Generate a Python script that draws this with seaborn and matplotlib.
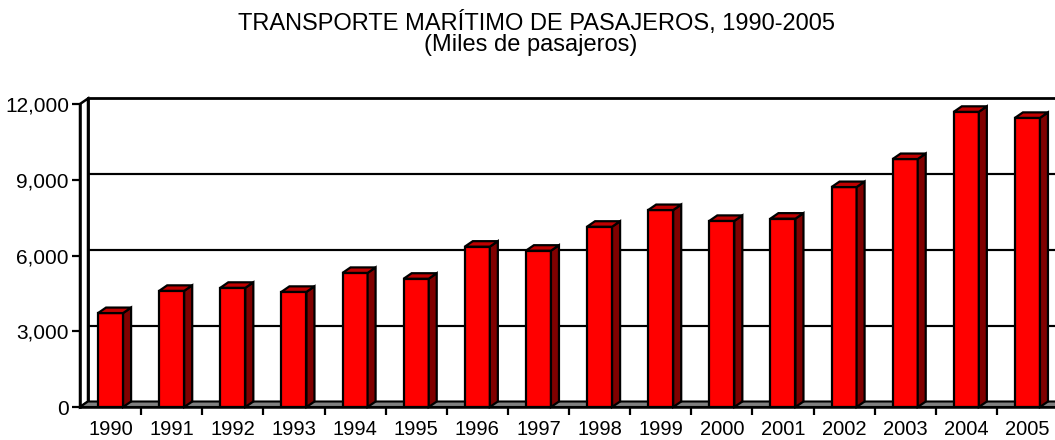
import numpy as np
import pandas as pd
import matplotlib
matplotlib.use("Agg")
import matplotlib.pyplot as plt
import seaborn as sns
from matplotlib.patches import Polygon
from matplotlib.ticker import FuncFormatter, FixedLocator

# data (miles de pasajeros)
years = ["1990", "1991", "1992", "1993", "1994", "1995", "1996", "1997",
         "1998", "1999", "2000", "2001", "2002", "2003", "2004", "2005"]
passengers = [3720, 4600, 4720, 4560, 5310, 5080, 6350, 6190,
              7140, 7800, 7370, 7460, 8710, 9820, 11690, 11450]
y_ticks = [0, 3000, 6000, 9000, 12000]

df = pd.DataFrame({"year": years, "value": passengers})

sns.set_theme(style="white")
plt.rcParams["font.family"] = ["Liberation Sans", "DejaVu Sans"]
plt.rcParams["text.color"] = "black"
plt.rcParams["xtick.color"] = "black"
plt.rcParams["ytick.color"] = "black"

W, H = 1055, 440
fig = plt.figure(figsize=(W / 100, H / 100), dpi=100)
ax = fig.add_axes([80 / W, (H - 407) / H, 978 / W, 303 / H])

# depth of the fake 3d box, in pixels
dx, dy = 8, 5.5

sns.barplot(data=df, x="year", y="value", color="#FF0000", width=0.41,
            edgecolor="black", linewidth=1.6, saturation=1, ax=ax, zorder=5)
ax.set_xlim(-0.5, len(years) - 0.5)
ax.set_ylim(0, 12000)

fig.canvas.draw()
to_fig = fig.transFigure.inverted()


def poly(points, **kw):
    # points in data coords, flag True means shifted to the back plane
    pts = []
    for x, y, back in points:
        px, py = ax.transData.transform((x, y))
        if back:
            px, py = px + dx, py + dy
        pts.append(to_fig.transform((px, py)))
    p = Polygon(pts, closed=True, transform=fig.transFigure, clip_on=False, **kw)
    ax.add_artist(p)
    return p


x0, x1 = -0.5, len(years) - 0.5
ymax = y_ticks[-1]

# back wall and its gridlines
poly([(x0, 0, True), (x0, ymax, True), (x1 + 1, ymax, True), (x1 + 1, 0, True)],
     facecolor="white", edgecolor="black", linewidth=2, zorder=1)
for t in y_ticks[1:-1]:
    poly([(x0, t, True), (x1 + 1, t, True)], fill=False, edgecolor="black",
         linewidth=1.5, zorder=1.5)
    poly([(x0, t, False), (x0, t, True)], fill=False, edgecolor="black",
         linewidth=1.5, zorder=2)
# left wall
poly([(x0, 0, False), (x0, ymax, False), (x0, ymax, True), (x0, 0, True)],
     facecolor="white", edgecolor="black", linewidth=1.8, zorder=2)
# floor
poly([(x0, 0, False), (x1 + 1, 0, False), (x1 + 1, 0, True), (x0, 0, True)],
     facecolor="#808080", edgecolor="black", linewidth=1.5, zorder=2)

# sides and tops of the bars
for bar in ax.patches:
    if not hasattr(bar, "get_height") or bar.get_height() == 0:
        continue
    bx0 = bar.get_x()
    bx1 = bx0 + bar.get_width()
    h = bar.get_height()
    poly([(bx1, 0, False), (bx1, h, False), (bx1, h, True), (bx1, 0, True)],
         facecolor="#800000", edgecolor="black", linewidth=1.6, zorder=5)
    poly([(bx0, h, False), (bx1, h, False), (bx1, h, True), (bx0, h, True)],
         facecolor="#C00000", edgecolor="black", linewidth=1.6, zorder=5)

# front axes
for side in ["top", "right"]:
    ax.spines[side].set_visible(False)
for side in ["left", "bottom"]:
    ax.spines[side].set_color("black")
    ax.spines[side].set_linewidth(1.8)
    ax.spines[side].set_zorder(6)

ax.set_yticks(y_ticks)
ax.yaxis.set_major_formatter(FuncFormatter(lambda v, p: f"{int(v):,}"))
ax.tick_params(axis="y", direction="out", length=6, width=1.6, color="black",
               labelcolor="black", labelsize=15, pad=2, left=True)
ax.set_xticks(range(len(years)))
ax.set_xticklabels(years)
ax.xaxis.set_minor_locator(FixedLocator(np.arange(0.5, len(years) - 0.5, 1)))
ax.tick_params(axis="x", which="major", length=0, labelsize=14.5, pad=9,
               labelcolor="black")
ax.tick_params(axis="x", which="minor", direction="out", length=6, width=1.6,
               color="black", bottom=True)
ax.set_xlabel("")
ax.set_ylabel("")
ax.grid(False)

fig.text(537 / W, 1 - 30 / H, "TRANSPORTE MARÍTIMO DE PASAJEROS, 1990-2005",
         ha="center", va="baseline", fontsize=17, color="black")
fig.text(531 / W, 1 - 51 / H, "(Miles de pasajeros)",
         ha="center", va="baseline", fontsize=17, color="black")

fig.savefig("out.png", dpi=100, facecolor="white")
